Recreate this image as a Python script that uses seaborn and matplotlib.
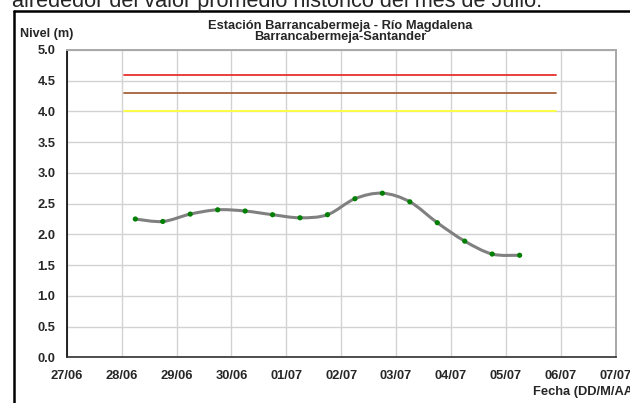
import numpy as np
import pandas as pd
import seaborn as sns
import matplotlib
matplotlib.use('Agg')
import matplotlib.pyplot as plt
import matplotlib.dates as mdates
from matplotlib.path import Path
from matplotlib.patches import PathPatch
from matplotlib.lines import Line2D

# Datos (dos lecturas por dia, 06:00 y 18:00)
fechas = pd.date_range('2010-06-28 06:00', periods=15, freq='12h')
niveles = [2.25, 2.21, 2.33, 2.40, 2.38, 2.32, 2.27, 2.32,
           2.58, 2.67, 2.53, 2.19, 1.89, 1.68, 1.66]

# Umbrales de alerta
umbral_valores = [4.6, 4.3, 4.0]
umbral_colores = ['#e8302c', '#a5623a', '#ffff3a']
umbral_inicio = pd.Timestamp('2010-06-28 01:00')
umbral_fin = pd.Timestamp('2010-07-05 22:00')

dias = pd.date_range('2010-06-27', '2010-07-07', freq='D')
y_ticks = np.arange(0, 5.01, 0.5)

sns.set_style('white')
plt.rcParams['font.family'] = ['Liberation Sans', 'DejaVu Sans']

fs = 9.3
fig = plt.figure(figsize=(6.3, 4.03), dpi=100)
ax = fig.add_axes([66.7 / 630, 1 - 357.3 / 403, 549 / 630, 307.3 / 403])

# Umbrales
for v, c in zip(umbral_valores, umbral_colores):
    sns.lineplot(x=[umbral_inicio, umbral_fin], y=[v, v], color=c, lw=1.3, ax=ax)

# Curva suavizada (tipo Excel) a partir de los puntos
xs = mdates.date2num(fechas)
pts = np.column_stack([xs, niveles])
n = len(pts)
verts = [pts[0]]
for i in range(n - 1):
    p0 = pts[i - 1] if i > 0 else pts[i]
    p1 = pts[i]
    p2 = pts[i + 1]
    p3 = pts[i + 2] if i + 2 < n else pts[i + 1]
    verts += [p1 + (p2 - p0) / 6, p2 - (p3 - p1) / 6, p2]
codes = [Path.MOVETO] + [Path.CURVE4] * 3 * (n - 1)
ax.add_patch(PathPatch(Path(verts, codes), facecolor='none',
                       edgecolor='#808080', lw=2.2, zorder=2))

sns.scatterplot(x=fechas, y=niveles, color='#008000', s=14,
                edgecolor='none', zorder=3, ax=ax)

ax.set_xlim(dias[0], dias[-1])
ax.set_ylim(0, 5)
ax.set_xticks(dias)
ax.xaxis.set_major_formatter(mdates.DateFormatter('%d/%m'))
ax.set_yticks(y_ticks)
ax.set_yticklabels([f'{v:.1f}' for v in y_ticks])
ax.set_xlabel('')
ax.set_ylabel('')

ax.grid(True, color='#d2d2d2', lw=1)
ax.set_axisbelow(True)
ax.spines['left'].set_color('black')
ax.spines['bottom'].set_color('#303030')
ax.spines['top'].set_color('#a8a8a8')
ax.spines['right'].set_color('#a8a8a8')
for s in ['left', 'bottom']:
    ax.spines[s].set_linewidth(1.2)
for s in ['top', 'right']:
    ax.spines[s].set_linewidth(1.4)
ax.tick_params(axis='y', direction='out', length=2.5, width=1, pad=5.5,
               labelsize=fs, color='black')
ax.tick_params(axis='x', direction='out', length=3, width=1, pad=6,
               labelsize=fs, color='black')
for lab in ax.get_xticklabels() + ax.get_yticklabels():
    lab.set_fontweight('bold')

# Textos
fig.text(340.5 / 630, 1 - 28.5 / 403, 'Estación Barrancabermeja - Río Magdalena',
         ha='center', va='baseline', fontsize=fs, fontweight='bold')
fig.text(340.5 / 630, 1 - 40 / 403, 'Barrancabermeja-Santander',
         ha='center', va='baseline', fontsize=fs, fontweight='bold')
fig.text(20.5 / 630, 1 - 37 / 403, 'Nivel (m)',
         ha='left', va='baseline', fontsize=9.1, fontweight='bold')
fig.text(533 / 630, 1 - 395 / 403, 'Fecha (DD/M/AAAA)',
         ha='left', va='baseline', fontsize=fs, fontweight='bold')
fig.text(12 / 630, 1 - 6.5 / 403,
         'alrededor del valor promedio histórico del mes de Julio.',
         ha='left', va='baseline', fontsize=15.6)

# Marco del documento
fig.add_artist(Line2D([13.7 / 630, 13.7 / 630], [0, 1 - 11.2 / 403],
                      transform=fig.transFigure, color='black', lw=1.8))
fig.add_artist(Line2D([13.7 / 630, 1], [1 - 11.2 / 403, 1 - 11.2 / 403],
                      transform=fig.transFigure, color='black', lw=1.8))

fig.savefig('out.png', dpi=100)
